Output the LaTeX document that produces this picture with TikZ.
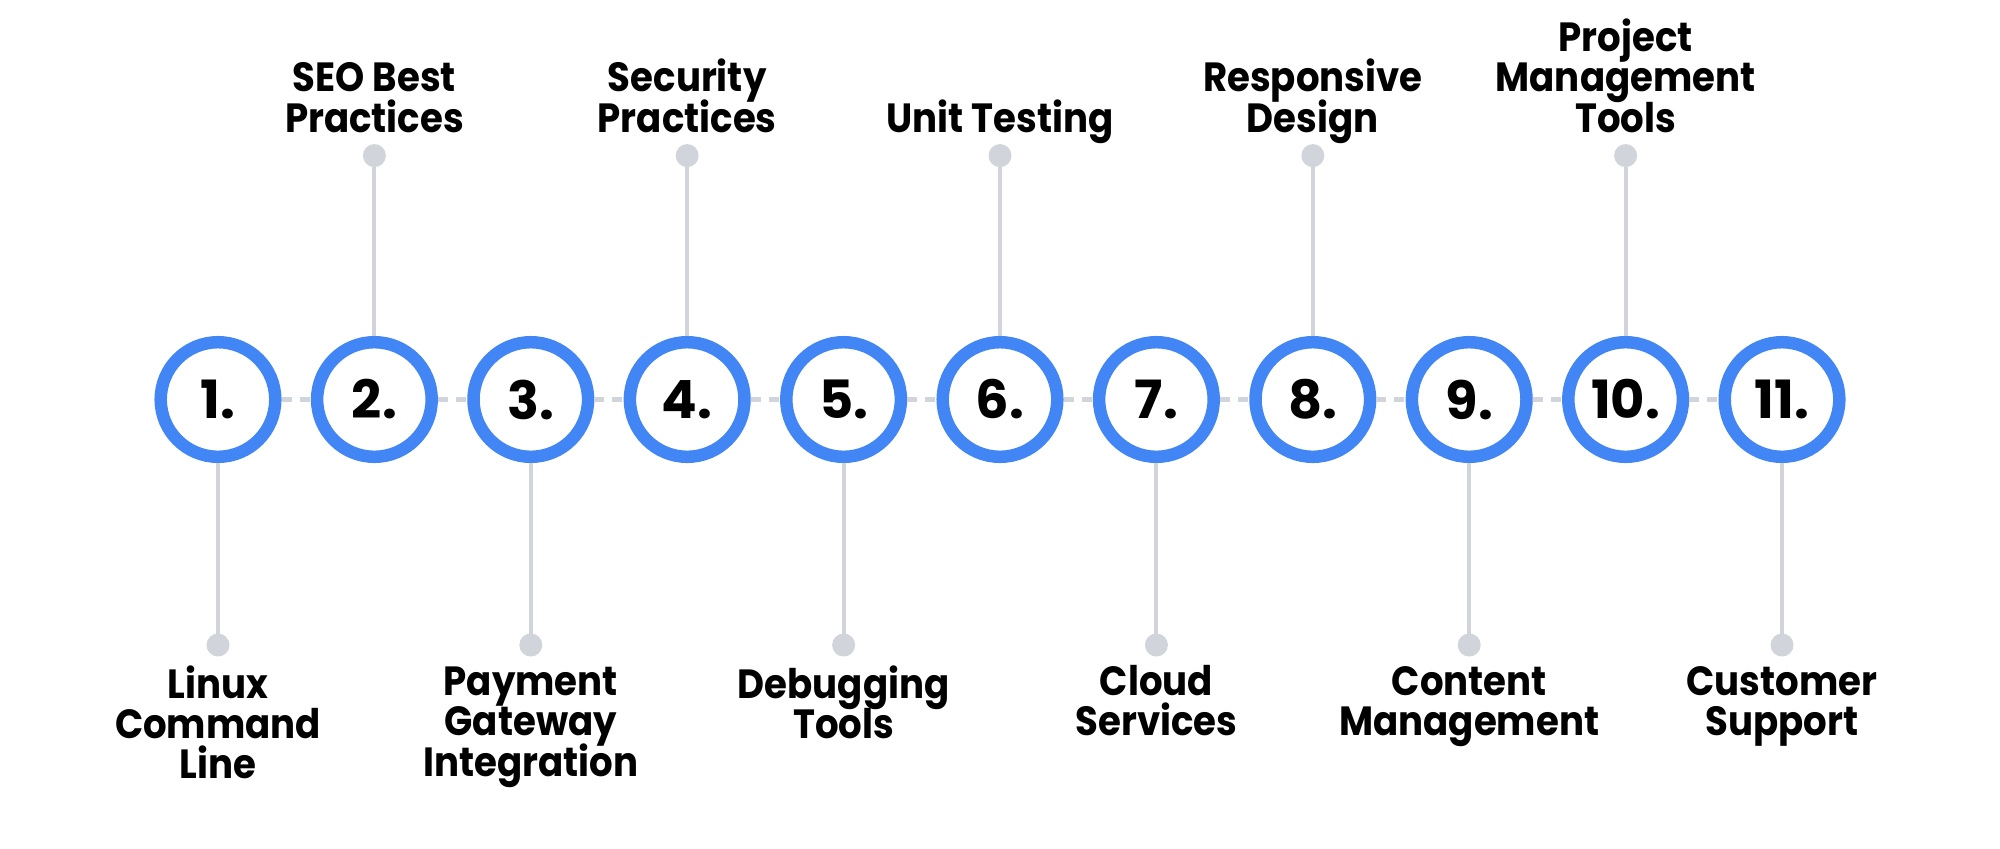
\documentclass[tikz,border=0pt]{standalone}
\usepackage{fontspec}
\setmainfont{Poppins}
\newfontfamily\lblfont[FakeStretch=0.91]{Poppins}
\definecolor{ringblue}{HTML}{4285F4}
\definecolor{linegray}{HTML}{D1D5DB}
\begin{document}
\begin{tikzpicture}[x=0.01cm,y=-0.01cm,
  ring/.style={circle, draw=ringblue, line width=3.55pt, fill=white, minimum size=1.145cm, inner sep=0pt, font={\fontsize{15pt}{15pt}\selectfont\bfseries}},
  dot/.style={circle, fill=linegray, minimum size=0.23cm, inner sep=0pt, outer sep=0pt},
  stem/.style={draw=linegray, line width=1.15pt},
  dashline/.style={draw=linegray, line width=1.15pt, dash pattern=on 2.85pt off 2.3pt},
  lbl/.style={align=center, inner sep=0pt, font={\lblfont\fontsize{11.6pt}{11.4pt}\selectfont\bfseries\lineskiplimit=-100pt}},
  toplabel/.style={lbl, anchor=south},
  botlabel/.style={lbl, anchor=north}
]
\useasboundingbox (0,0) rectangle (2000,848);
\fill[white] (0,0) rectangle (2000,848);
\foreach \i in {1,...,11} {
  \node[ring] (c\i) at ({218+156.4*(\i-1)},399.5) {\i.};
}
\foreach \i [evaluate=\i as \j using int(\i+1)] in {1,...,10} {
  \draw[dashline] (c\i.east) -- (c\j.west);
}
\foreach \i in {2,4,...,10} {
  \node[dot] (d\i) at ({218+156.4*(\i-1)},155.6) {};
  \draw[stem] (d\i) -- (c\i.north);
}
\foreach \i in {1,3,...,11} {
  \node[dot] (d\i) at ({218+156.4*(\i-1)},645) {};
  \draw[stem] (c\i.south) -- (d\i);
}
\node[botlabel] (l1) at (218,665) {\vphantom{lb}Linux\\Command\\Line};
\node[toplabel] (l2) at (374.4,144) {SEO Best\\Practices\vphantom{g}};
\node[botlabel] (l3) at (530.8,665) {\vphantom{lb}Payment\\Gateway\\Integration};
\node[toplabel] (l4) at (687.2,144) {Security\\Practices\vphantom{g}};
\node[botlabel] (l5) at (843.6,665) {\vphantom{lb}Debugging\\Tools};
\node[toplabel] (l6) at (1000,144) {Unit Testing\vphantom{g}};
\node[botlabel] (l7) at (1156.4,665) {\vphantom{lb}Cloud\\Services};
\node[toplabel] (l8) at (1312.8,144) {Responsive\\Design\vphantom{g}};
\node[botlabel] (l9) at (1469.2,665) {\vphantom{lb}Content\\Management};
\node[toplabel] (l10) at (1625.6,144) {Project\\Management\\Tools\vphantom{g}};
\node[botlabel] (l11) at (1782,665) {\vphantom{lb}Customer\\Support};
\end{tikzpicture}
\end{document}
